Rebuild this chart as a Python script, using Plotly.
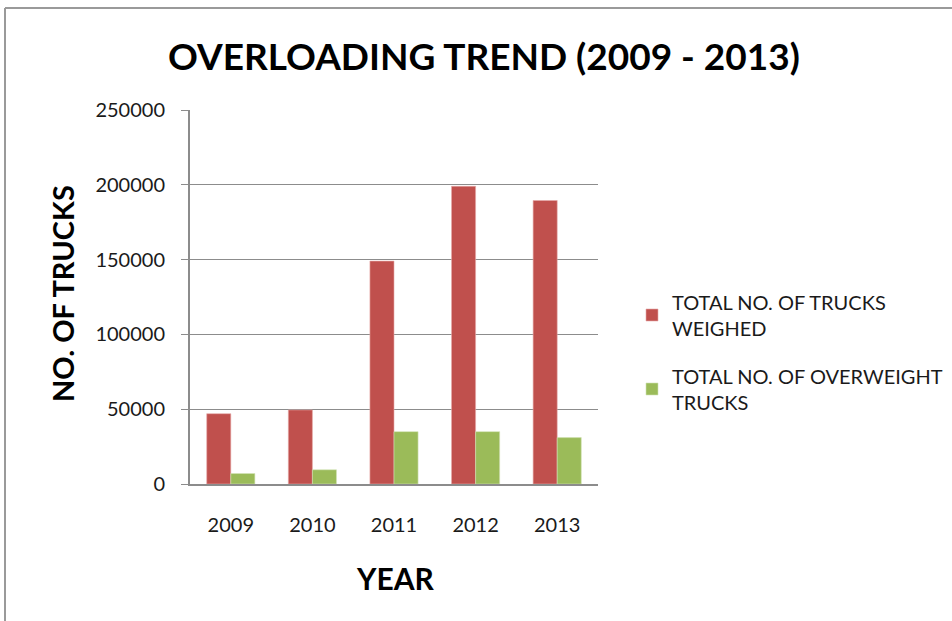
import plotly.graph_objects as go

years = ["2009", "2010", "2011", "2012", "2013"]
weighed = [47000, 49500, 149000, 199000, 189500]
overweight = [7000, 9500, 35000, 35000, 31000]
y_ticks = [0, 50000, 100000, 150000, 200000, 250000]

FONT = "Lato, 'Open Sans', sans-serif"
W, H = 952, 621
L, R, T, B = 190, 598, 110, 484


def px(x):
    return (x - L) / (R - L)


def py(y):
    return (B - y) / (B - T)


fig = go.Figure()
fig.add_trace(go.Bar(
    x=years, y=weighed, name="TOTAL NO. OF TRUCKS<br>WEIGHED",
    marker=dict(color="#C0504D", line=dict(color="#E6A9A7", width=0.6)),
    legendgroup="a",
))
fig.add_trace(go.Bar(
    x=years, y=overweight, name="TOTAL NO. OF OVERWEIGHT<br>TRUCKS",
    marker=dict(color="#9BBB59", line=dict(color="#D2E3B5", width=0.6)),
    legendgroup="b",
))

fig.update_layout(
    width=W, height=H,
    margin=dict(l=L, r=W - R, t=T, b=H - B, autoexpand=False),
    paper_bgcolor="white", plot_bgcolor="white",
    barmode="group", bargap=0.41, bargroupgap=0.0,
    font=dict(family=FONT, size=20, color="#1a1a1a"),
    showlegend=True,
    legend=dict(
        x=px(632), y=py(352), xanchor="left", yanchor="middle",
        font=dict(family=FONT, size=20, color="#1a1a1a"),
        traceorder="grouped", tracegroupgap=19,
        itemwidth=30, bgcolor="rgba(0,0,0,0)",
    ),
    xaxis=dict(
        showline=True, linecolor="#8c8c8c", linewidth=2,
        ticks="", showgrid=False,
        tickfont=dict(family=FONT, size=20, color="#1a1a1a"),
        ticklabelstandoff=22,
    ),
    yaxis=dict(
        range=[0, 250000], tickvals=y_ticks,
        ticktext=[str(v) for v in y_ticks],
        showline=True, linecolor="#8c8c8c", linewidth=2,
        showgrid=True, gridcolor="#8c8c8c", gridwidth=1.3,
        ticks="outside", ticklen=7, tickcolor="#8c8c8c", tickwidth=1.3,
        tickfont=dict(family=FONT, size=20, color="#1a1a1a"),
        ticklabelstandoff=12,
        zeroline=False,
    ),
    annotations=[
        dict(text="<b>OVERLOADING TREND (2009 - 2013)</b>", x=px(484), y=py(55),
             xref="paper", yref="paper", showarrow=False,
             font=dict(family=FONT, size=37, color="#000000"),
             xanchor="center", yanchor="middle"),
        dict(text="<b>NO. OF TRUCKS</b>", x=px(62), y=py(294),
             xref="paper", yref="paper", showarrow=False, textangle=-90,
             font=dict(family=FONT, size=29, color="#000000"),
             xanchor="center", yanchor="middle"),
        dict(text="<b>YEAR</b>", x=px(395), y=py(578),
             xref="paper", yref="paper", showarrow=False,
             font=dict(family=FONT, size=30, color="#000000"),
             xanchor="center", yanchor="middle"),
    ],
    shapes=[
        dict(type="line", xref="paper", yref="paper",
             x0=px(5), x1=px(5), y0=py(640), y1=py(8),
             line=dict(color="#9a9a9a", width=2)),
        dict(type="line", xref="paper", yref="paper",
             x0=px(5), x1=px(970), y0=py(8), y1=py(8),
             line=dict(color="#9a9a9a", width=2)),
    ],
)

fig.write_html("out.html", config={"displayModeBar": False},
               post_script="document.body.style.margin='0';")
